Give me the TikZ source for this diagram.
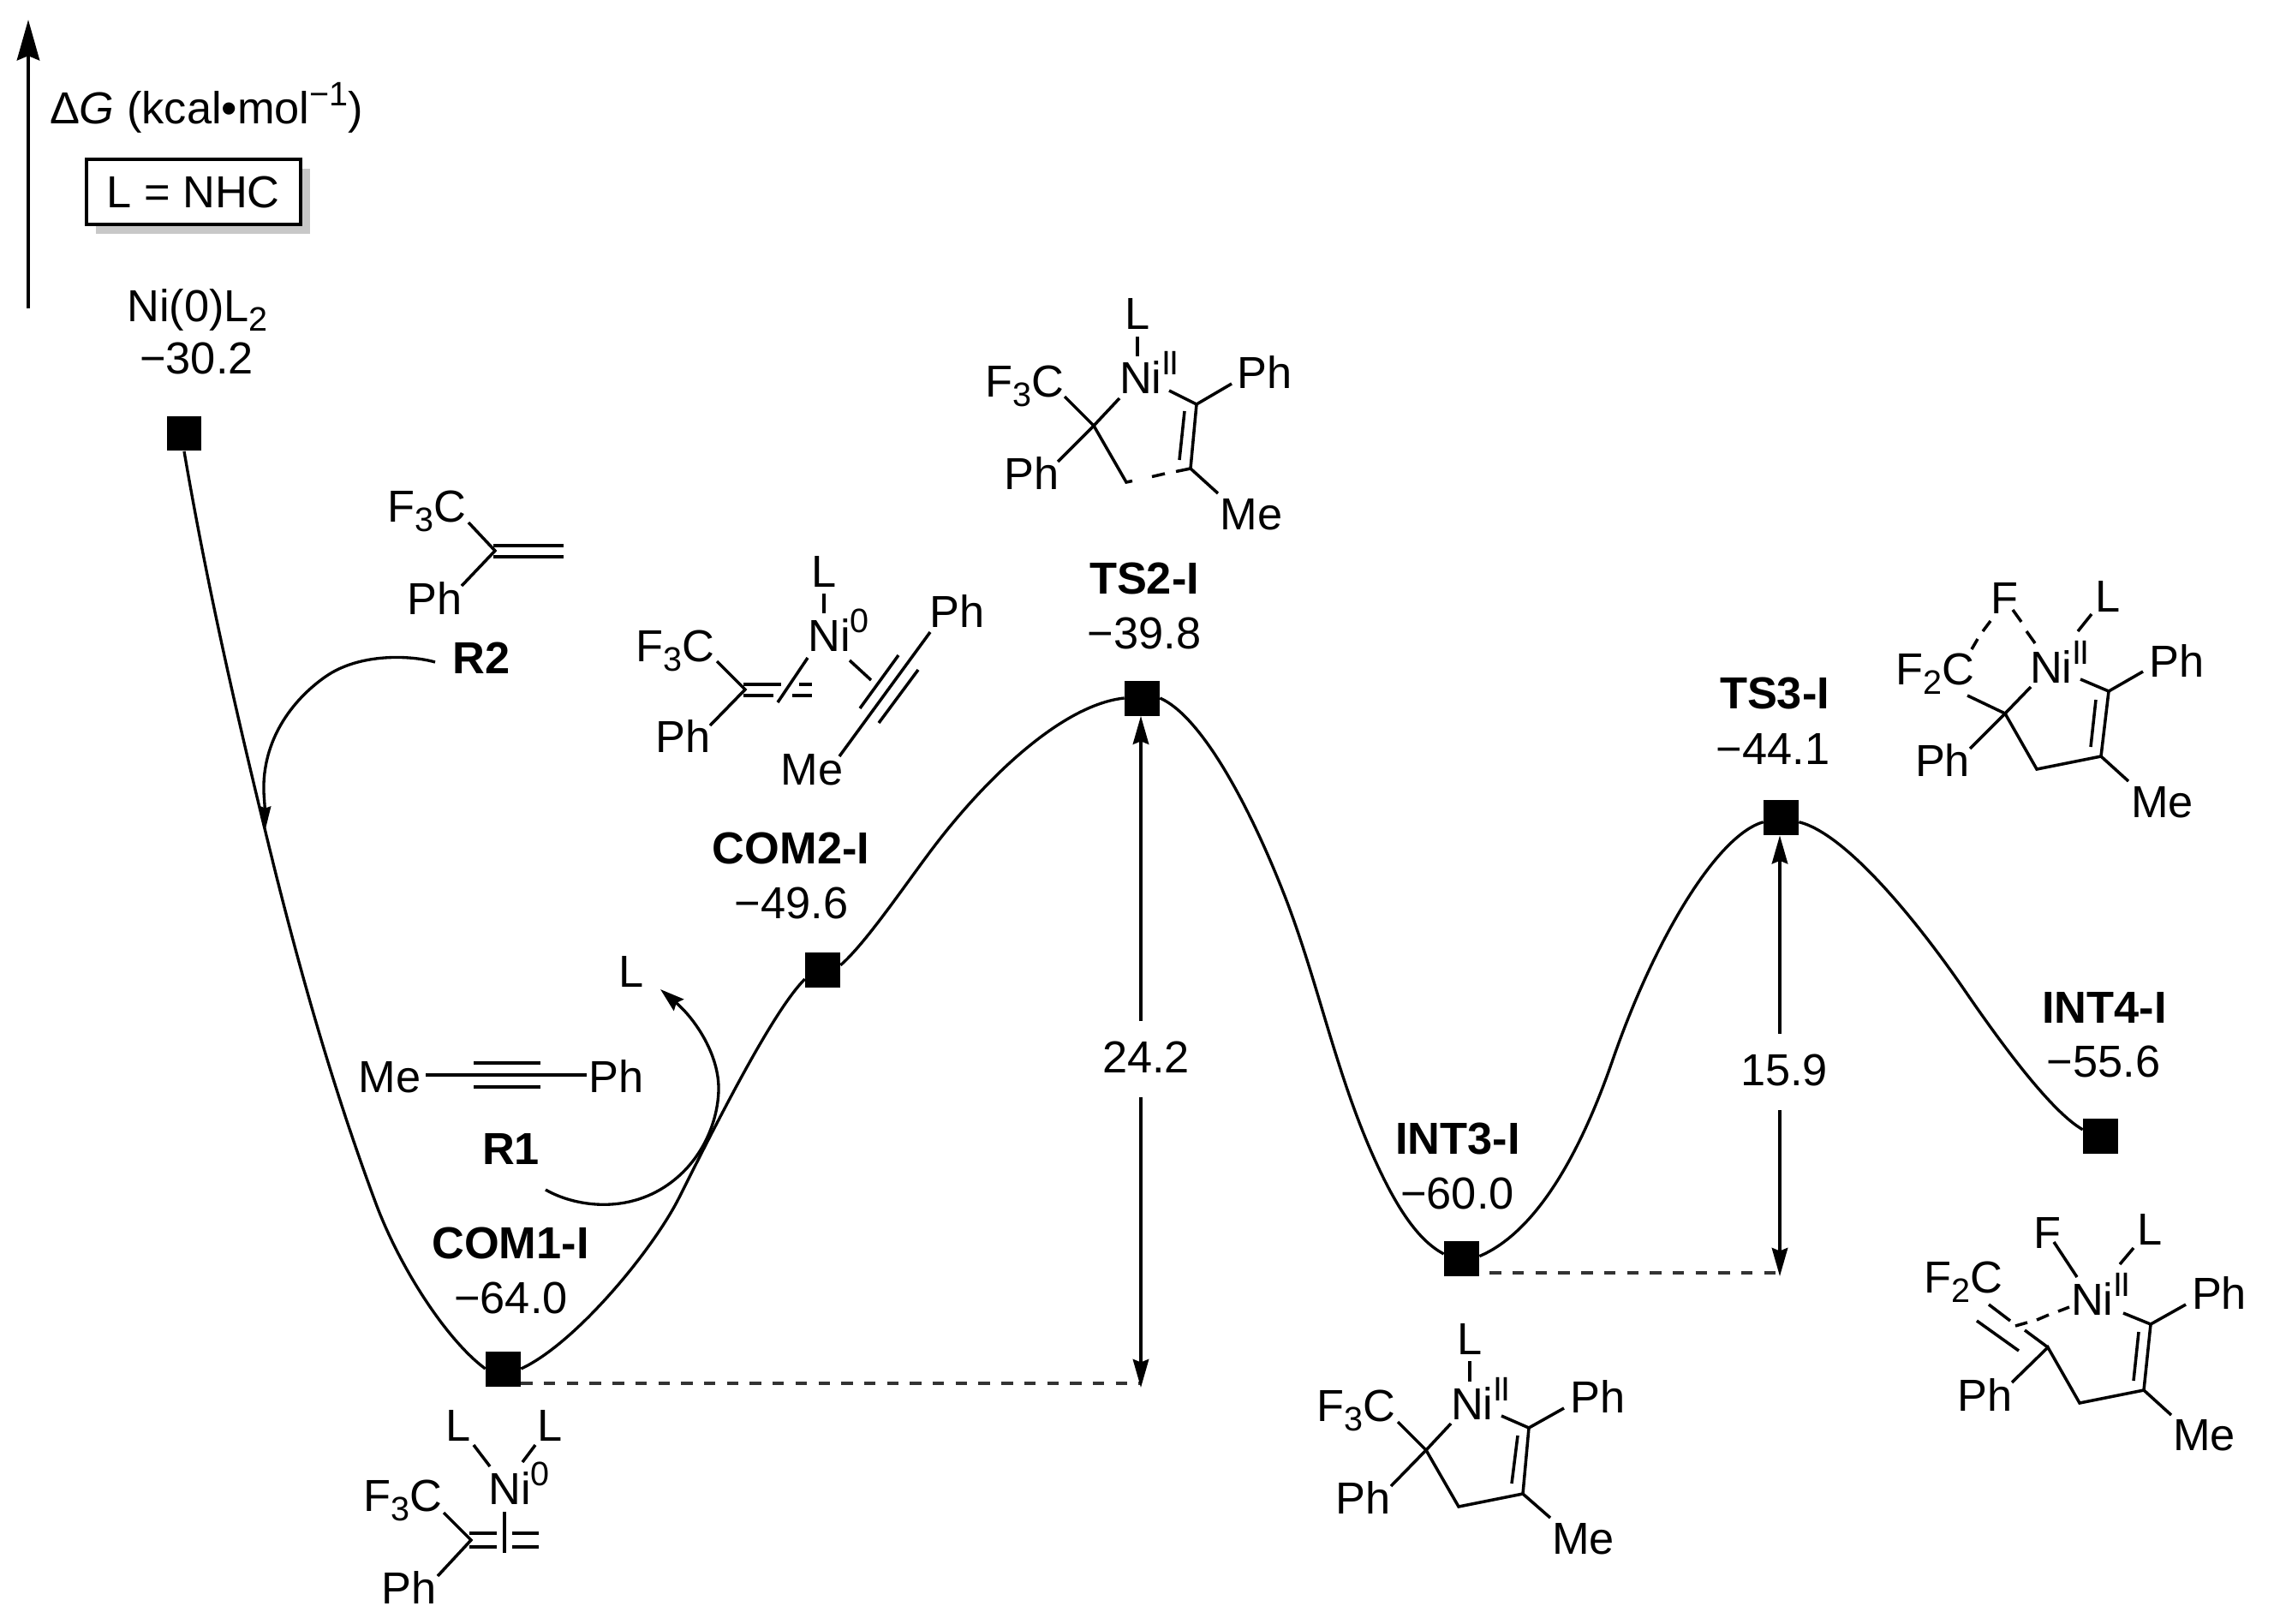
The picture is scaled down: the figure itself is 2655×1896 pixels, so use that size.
\documentclass[tikz,border=0pt]{standalone}
\usepackage{fontspec}
\setmainfont{Liberation Sans}
\usetikzlibrary{arrows.meta,calc}
\newcommand\sbs[1]{\raisebox{-6.3pt}{\fontsize{22.5}{22.5}\selectfont #1}}
\newcommand\sps[1]{\raisebox{12pt}{\fontsize{22.5}{22.5}\selectfont #1}}
\newcommand\lab[4]{\node[txt] (#1) at (#2,#3) {#4};}
\definecolor{shadowgray}{HTML}{C8C8C8}
\definecolor{refgray}{HTML}{333333}
\tikzset{
  txt/.style={inner sep=0pt,anchor=base,font=\fontsize{29.8}{34}\selectfont},
  lev/.style={fill=black,inner sep=0pt,minimum size=0.82cm,rectangle},
  bond/.style={line width=2pt,line cap=butt,line join=miter},
  pes/.style={line width=1.9pt},
  refline/.style={line width=1.9pt,color=refgray,dash pattern=on 7.6pt off 7.6pt},
  span/.style={line width=2.1pt,-{Stealth[length=18.8pt,width=10.5pt,inset=2pt]}},
  curly/.style={line width=1.9pt},
}
\begin{document}
\begin{tikzpicture}[x=0.02cm,y=-0.02cm]
\path[use as bounding box,fill=white] (0,0) rectangle (2655,1896);

% axis
\coordinate (axb) at (33,360);
\coordinate (axt) at (33,23);
\draw[line width=2.2pt,-{Stealth[length=27pt,width=15pt,inset=3pt]}] (axb) -- (axt);
\lab{dg}{241}{145}{Δ\textit{G} (kcal•mol\sps{−1})}
\node[fill=shadowgray,minimum width=5cm,minimum height=1.52cm,inner sep=0pt] (boxsh) at (236.7,235) {};
\node[draw=black,line width=2.2pt,fill=white,minimum width=5cm,minimum height=1.52cm,inner sep=0pt,font=\fontsize{29.8}{34}\selectfont] (boxl) at (225.7,224) {L = NHC};

% energy levels
\node[lev] (sqN) at (215,506) {};
\node[lev] (sqA) at (587.5,1598) {};
\node[lev] (sqB) at (960.5,1132) {};
\node[lev] (sqT) at (1333.5,815) {};
\node[lev] (sqI) at (1706.5,1469.5) {};
\node[lev] (sqU) at (2079.5,954.5) {};
\node[lev] (sqF) at (2452.5,1326) {};

% labels
\lab{lNi}{230.5}{375}{Ni(0)L\sbs{2}}
\lab{vNi}{229.5}{436}{−30.2}
\lab{lA}{596}{1469}{\textbf{COM1-I}}
\lab{vA}{596.5}{1533}{−64.0}
\lab{lB}{923.5}{1008}{\textbf{COM2-I}}
\lab{vB}{924}{1072}{−49.6}
\lab{lT}{1336}{693}{\textbf{TS2-I}}
\lab{vT}{1336}{757}{−39.8}
\lab{lI}{1702}{1347}{\textbf{INT3-I}}
\lab{vI}{1701.5}{1411}{−60.0}
\lab{lU}{2072}{827}{\textbf{TS3-I}}
\lab{vU}{2070}{892}{−44.1}
\lab{lF}{2457}{1194}{\textbf{INT4-I}}
\lab{vF}{2456}{1257}{−55.6}
\lab{bar1}{1338}{1252}{24.2}
\lab{bar2}{2083}{1267}{15.9}

% energy profile
\draw[pes] (sqN.south) .. controls (243,691) and (281,855) .. (322,1020)
  .. controls (354,1147) and (390,1273) .. (437,1400)
  .. controls (466,1480) and (522,1565) .. (sqA.west);
\draw[pes] (sqA.east) .. controls (673,1568) and (763,1458) .. (793,1398)
  .. controls (848,1288) and (905,1178) .. (sqB.208);
\draw[pes] (sqB.14) .. controls (1010,1102) and (1054,1037) .. (1087,993)
  .. controls (1147,913) and (1238,823) .. (sqT.west);
\draw[pes] (sqT.east) .. controls (1400,835) and (1455,931) .. (1500,1046)
  .. controls (1540,1149) and (1560,1256) .. (1607,1358)
  .. controls (1630,1408) and (1655,1448) .. (sqI.165);
\draw[pes] (sqI.8) .. controls (1790,1440) and (1842,1355) .. (1882,1240)
  .. controls (1932,1095) and (2005,975) .. (sqU.194);
\draw[pes] (sqU.346) .. controls (2155,973) and (2238,1075) .. (2293,1155)
  .. controls (2343,1228) and (2397,1299) .. (sqF.161);

% reference lines and spans
\coordinate (dA) at (1332,1615);
\coordinate (dI) at (2073,1486);
\draw[refline] (sqA.east |- dA) -- (dA);
\draw[refline] ($(sqI.east |- dI)+(12,0)$) -- (dI);
\coordinate (sA1) at (1332,1192);
\coordinate (sA2) at (1332,1281);
\coordinate (sAt) at (1332,1620);
\draw[span] (sA1) -- (sA1 |- sqT.south);
\draw[span] (sA2) -- (sAt);
\coordinate (sB1) at (2078,1207);
\coordinate (sB2) at (2078,1296);
\coordinate (sBt) at (2078,1490);
\draw[span] (sB1) -- (sB1 |- sqU.south);
\draw[span] (sB2) -- (sBt);

% R2
\lab{rF}{498.5}{609}{F\sbs{3}C}
\lab{rPh}{508}{717}{Ph}
\lab{rR2}{562}{786}{\textbf{R2}}
\coordinate (rc) at (578,643);
\draw[bond] (547,610) -- (rc) -- (539,684);
\draw[bond] (576,637) -- (658,637);
\draw[bond] (576,650) -- (658,650);
\coordinate (r2s) at (508,773);
\coordinate (r2e) at (310,968);
\draw[curly,-{Stealth[length=15pt,width=7pt,inset=1pt]}] (r2s) .. controls (480,765) and (420,762) .. (380,790)
  .. controls (340,818) and (306,865) .. (308,925) .. controls (309,940) and (310,955) .. (r2e);

% R1
\lab{oMe}{455}{1275}{Me}
\lab{oPh}{720}{1275}{Ph}
\lab{oR1}{596.5}{1359}{\textbf{R1}}
\lab{oL}{737}{1152}{L}
\coordinate (oMs) at (497,1255);
\coordinate (oPs) at (685,1255);
\draw[bond] (oMs) -- (oPs);
\draw[bond] (553,1241) -- (631,1241);
\draw[bond] (553,1269) -- (631,1269);
\coordinate (r1s) at (637,1389);
\coordinate (r1e) at (771,1155);
\draw[curly,-{Stealth[length=16pt,width=10pt,inset=2pt]}] (r1s) .. controls (670,1408) and (730,1418) .. (780,1383)
  .. controls (820,1355) and (838,1310) .. (839,1273)
  .. controls (840,1232) and (812,1190) .. (r1e);

% COM1-I structure
\lab{aL1}{535}{1682}{L}
\lab{aL2}{642}{1682}{L}
\lab{aNi}{606}{1756}{Ni\sps{0}}
\lab{aF}{470}{1764}{F\sbs{3}C}
\lab{aPh}{478}{1872}{Ph}
\coordinate (ac) at (550,1798);
\draw[bond] (553,1687) -- (572,1712);
\draw[bond] (625,1687) -- (610,1707);
\draw[bond] (518,1766) -- (ac) -- (511,1840);
\draw[bond] (548,1790) -- (580,1790);
\draw[bond] (548,1806) -- (580,1806);
\draw[bond] (598,1790) -- (629,1790);
\draw[bond] (598,1806) -- (629,1806);
\draw[bond] (589,1765) -- (589,1813);

% COM2-I structure
\lab{bL}{962}{685}{L}
\lab{bNi}{979}{760}{Ni\sps{0}}
\lab{bF}{788}{772}{F\sbs{3}C}
\lab{bPh}{798}{878}{Ph}
\lab{bMe}{948}{916}{Me}
\lab{bPh2}{1118}{732}{Ph}
\coordinate (bc) at (870,805);
\draw[bond] (962,693) -- (962,716);
\draw[bond] (837,772) -- (bc) -- (829,847);
\draw[bond] (868,799) -- (912,799);
\draw[bond] (868,812) -- (903,812);
\draw[bond] (933,799) -- (948,799);
\draw[bond] (925,812) -- (948,812);
\draw[bond] (943,768) -- (908,820);
\draw[bond] (992,771) -- (1017,794);
\draw[bond] (980,883) -- (1086,738);
\draw[bond] (1004,827) -- (1049,765);
\draw[bond] (1026,844) -- (1072,782);

% TS2-I structure
\lab{tL}{1328}{384}{L}
\lab{tNi}{1342}{459}{Ni\sps{I\kern-1pt I}}
\lab{tPh}{1477}{453}{Ph}
\lab{tF}{1196}{463}{F\sbs{3}C}
\lab{tPh2}{1205}{571}{Ph}
\lab{tMe}{1461}{618}{Me}
\coordinate (t1) at (1277,497);
\coordinate (t2) at (1315,563);
\coordinate (t3) at (1390,547);
\coordinate (t4) at (1397,472);
\draw[bond] (1328,393) -- (1328,416);
\draw[bond] (1243,463) -- (t1) -- (1235,539);
\draw[bond] (1307,465) -- (t1) -- (t2) -- (1322,561.5);
\draw[bond] (1345,556.5) -- (1360,553);
\draw[bond] (1373,550.5) -- (t3) -- (t4) -- (1365,456);
\draw[bond] (1377,537) -- (1383,480);
\draw[bond] (t4) -- (1438,448);
\draw[bond] (t3) -- (1422,576);

% INT3-I structure
\lab{iL}{1716}{1581}{L}
\lab{iNi}{1729}{1657}{Ni\sps{I\kern-1pt I}}
\lab{iPh}{1865.5}{1649}{Ph}
\lab{iF}{1583}{1659}{F\sbs{3}C}
\lab{iPh2}{1592}{1767}{Ph}
\lab{iMe}{1848.5}{1814}{Me}
\coordinate (i1) at (1665,1693);
\coordinate (i2) at (1703,1759);
\coordinate (i3) at (1778,1744);
\coordinate (i4) at (1785,1667);
\draw[bond] (1716,1589) -- (1716,1613);
\draw[bond] (1632,1660) -- (i1) -- (1624,1735);
\draw[bond] (1694,1662) -- (i1) -- (i2) -- (i3) -- (i4) -- (1753,1653);
\draw[bond] (1765,1732) -- (1772,1676);
\draw[bond] (i4) -- (1826,1644);
\draw[bond] (i3) -- (1810,1772);

% TS3-I structure
\lab{uF}{2340.5}{716}{F}
\lab{uL}{2461}{714}{L}
\lab{uNi}{2405}{797}{Ni\sps{I\kern-1pt I}}
\lab{uPh}{2541.5}{790}{Ph}
\lab{uFt}{2259.5}{799}{F\sbs{2}C}
\lab{uPh2}{2268}{906}{Ph}
\lab{uMe}{2524.5}{954}{Me}
\coordinate (u1) at (2341,833);
\coordinate (u2) at (2378,898);
\coordinate (u3) at (2453,883);
\coordinate (u4) at (2462,807);
\draw[bond] (2442,717) -- (2426,737);
\draw[bond] (2297,812) -- (u1) -- (2300,874);
\draw[bond] (2371,802) -- (u1) -- (u2) -- (u3) -- (u4) -- (2429,793);
\draw[bond] (2441,872) -- (2447,817);
\draw[bond] (u4) -- (2502,784);
\draw[bond] (u3) -- (2485,912);
\draw[bond] (2324,725) -- (2315,737);
\draw[bond] (2309,746) -- (2302,758);
\draw[bond] (2350,712) -- (2360,726);
\draw[bond] (2366,737) -- (2376,751);

% INT4-I structure
\lab{fF}{2390}{1457}{F}
\lab{fL}{2510}{1453}{L}
\lab{fNi}{2453}{1535}{Ni\sps{I\kern-1pt I}}
\lab{fPh}{2591}{1528}{Ph}
\lab{fFt}{2292.5}{1509}{F\sbs{2}C}
\lab{fPh2}{2317.5}{1647}{Ph}
\lab{fMe}{2573.5}{1693}{Me}
\coordinate (f1) at (2391,1573);
\coordinate (f2) at (2428,1638);
\coordinate (f3) at (2503,1623);
\coordinate (f4) at (2511,1546);
\draw[bond] (2398,1450) -- (2425,1491);
\draw[bond] (2491,1457) -- (2475,1476);
\draw[bond] (2349,1614) -- (f1) -- (f2) -- (f3) -- (f4) -- (2479,1533);
\draw[bond] (2491,1612) -- (2497,1555);
\draw[bond] (f4) -- (2552,1523);
\draw[bond] (f3) -- (2535,1652);
\draw[bond] (2322,1523) -- (2347,1542);
\draw[bond] (2364,1553) -- (f1);
\draw[bond] (2308,1542) -- (2357,1577);
\draw[bond] (2353,1548) -- (2367,1544);
\draw[bond] (2378,1541) -- (2392,1535);
\draw[bond] (2403,1531) -- (2416,1526);
\end{tikzpicture}
\end{document}
